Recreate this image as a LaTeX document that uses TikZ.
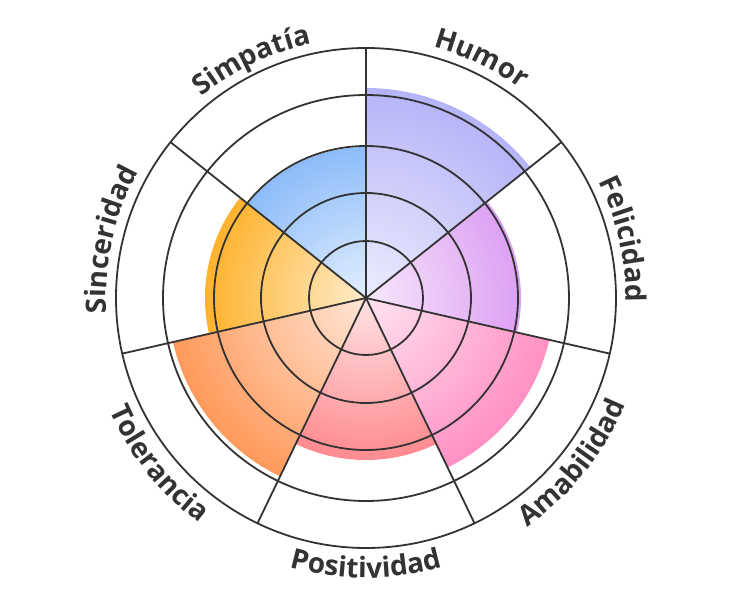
\documentclass[tikz,border=0pt]{standalone}
\usepackage{fontspec}
\setmainfont{Open Sans}
\usetikzlibrary{decorations.text}
\definecolor{hum}{HTML}{A6A4F6}
\definecolor{fel}{HTML}{D68CF0}
\definecolor{ama}{HTML}{FF78B8}
\definecolor{pos}{HTML}{FF7278}
\definecolor{tol}{HTML}{FF8438}
\definecolor{sin}{HTML}{FFA200}
\definecolor{sim}{HTML}{74AEF8}
\definecolor{rim}{HTML}{333333}
\colorlet{secin}{white}
\colorlet{secmid}{white}
\colorlet{secout}{white}
\pgfdeclareradialshading[secin,secmid,secout]{sect}{\pgfpoint{0bp}{0bp}}{%
  color(0bp)=(secin); color(16bp)=(secmid); color(32bp)=(secout); color(100bp)=(secout)}

\begin{document}
\begin{tikzpicture}[x=1pt,y=1pt]
    \tikzstyle{ring}=[draw=rim,line width=1.8pt]
    \tikzstyle{spoke}=[draw=rim,line width=1.8pt]
    \useasboundingbox (-366,-302) rectangle (366,298);

    % filled sectors
    \foreach \lab/\rad/\col [count=\i from 0] in
      {Humor/210/hum, Felicidad/155/fel, Amabilidad/188/ama, Positividad/162/pos,
       Tolerancia/198/tol, Sinceridad/161/sin, Simpatía/151/sim} {
        \pgfmathsetmacro{\a}{90-\i*360/7}
        \pgfmathsetmacro{\b}{\a-360/7}
        \colorlet{secout}{\col}
        \colorlet{secmid}{\col!60!white}
        \colorlet{secin}{\col!20!white}
        \begin{scope}
            \clip (0,0) -- (\a:\rad) arc (\a:\b:\rad) -- cycle;
            \shade[shading=sect] (0,0) circle (\rad);
        \end{scope}
    }

    % rings and spokes
    \foreach \r in {57,105,152,203,250}
        \draw[ring] (0,0) circle (\r);
    \foreach \i in {0,...,6}
        \draw[spoke] (0,0) -- ({90-\i*360/7}:250);

    % labels, top half clockwise
    \foreach \lab/\i in {Humor/0, Felicidad/1, Sinceridad/5, Simpatía/6} {
        \pgfmathsetmacro{\a}{90-\i*360/7}
        \pgfmathsetmacro{\b}{\a-360/7}
        \path[decorate,decoration={text along path,text align=center,
            text={|\fontsize{28}{30}\selectfont\bfseries\color{rim}|\lab}}]
            (\a:260) arc (\a:\b:260);
    }
    % labels, bottom half counterclockwise
    \foreach \lab/\i in {Amabilidad/2, Positividad/3, Tolerancia/4} {
        \pgfmathsetmacro{\a}{90-\i*360/7}
        \pgfmathsetmacro{\b}{\a-360/7}
        \path[decorate,decoration={text along path,text align=center,
            text={|\fontsize{28}{30}\selectfont\bfseries\color{rim}|\lab}}]
            (\b:280) arc (\b:\a:280);
    }
\end{tikzpicture}
\end{document}
